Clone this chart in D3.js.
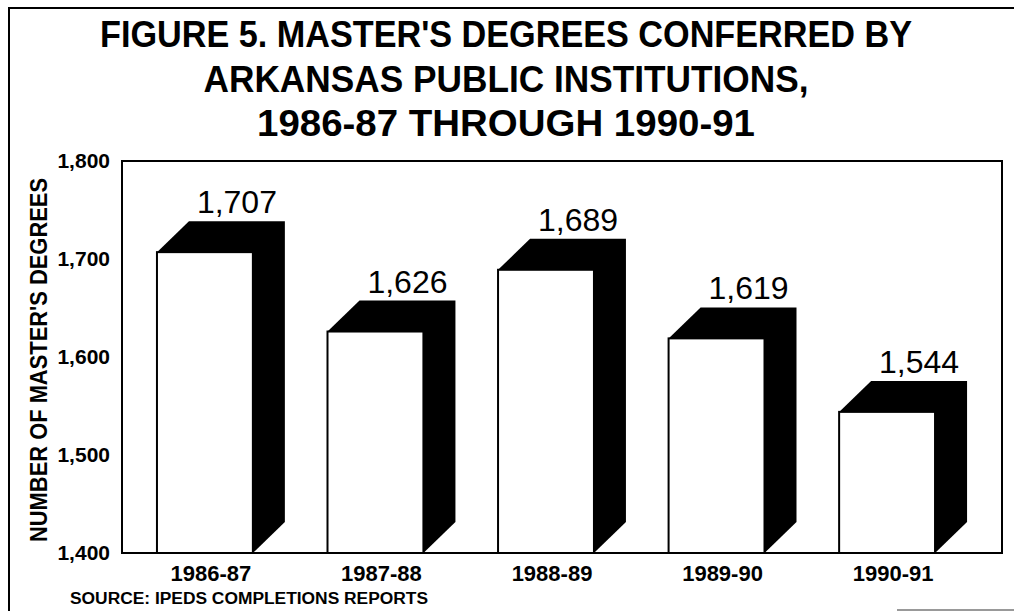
<!DOCTYPE html>
<html>
<script src='https://cdnjs.cloudflare.com/ajax/libs/d3/7.8.5/d3.min.js'></script>
<style>
body {margin: 0; background: white;}
text {font-family: 'Liberation Sans', Arial, sans-serif; fill: black;}
</style>
<body onload='init()'>
<script>
// chart data
var years = ['1986-87', '1987-88', '1988-89', '1989-90', '1990-91'];
var degrees = [1707, 1626, 1689, 1619, 1544];
var yTicks = [1400, 1500, 1600, 1700, 1800];
var titleLines = ["FIGURE 5. MASTER'S DEGREES CONFERRED BY", 'ARKANSAS PUBLIC INSTITUTIONS,', '1986-87 THROUGH 1990-91'];
var yTitle = "NUMBER OF MASTER'S DEGREES";
var source = 'SOURCE: IPEDS COMPLETIONS REPORTS';

function init() {
var left = 122, right = 1002, top = 161, bottom = 553;
var dx = 32, dy = 31;

var svg = d3.select('body')
.append('svg')
.attr('width', 1014)
.attr('height', 611);

// outer page border
svg.append('path')
.attr('d', 'M9,611 L9,8 L1014,8')
.attr('fill', 'none')
.attr('stroke', 'black')
.attr('stroke-width', 2);
svg.append('line')
.attr('x1', 897).attr('x2', 1014).attr('y1', 610).attr('y2', 610)
.attr('stroke', '#777').attr('stroke-width', 1.5);

var x = d3.scaleBand().domain(years).range([left, right]).paddingInner(0.25).paddingOuter(0.205);
var y = d3.scaleLinear().domain([1400, 1800]).range([bottom, top]);

// title
var titleY = [47, 92, 136], titleW = [812, 605, 498];
svg.selectAll('.title')
.data(titleLines)
.enter()
.append('text')
.attr('class', 'title')
.attr('x', 506)
.attr('y', function(d, i){return titleY[i];})
.attr('text-anchor', 'middle')
.attr('textLength', function(d, i){return titleW[i];})
.attr('lengthAdjust', 'spacingAndGlyphs')
.style('font-size', '37px')
.style('font-weight', 'bold')
.text(function(d){return d;});

// plot frame
svg.append('rect')
.attr('x', left).attr('y', top)
.attr('width', right - left).attr('height', bottom - top)
.attr('fill', 'white')
.attr('stroke', 'black')
.attr('stroke-width', 2);

// y axis labels
var yAxis = svg.append('g')
.attr('transform', 'translate(' + left + ',0)')
.call(d3.axisLeft(y).tickValues(yTicks).tickSize(0).tickPadding(12).tickFormat(d3.format(',')));
yAxis.select('.domain').remove();
yAxis.selectAll('text')
.style('font-family', "'Liberation Sans', Arial, sans-serif")
.style('font-size', '21px')
.style('font-weight', 'bold');

// bars
var w = x.bandwidth() - dx;
var bars = svg.selectAll('.bar')
.data(degrees)
.enter()
.append('g')
.attr('class', 'bar');

bars.append('path')
.attr('fill', 'black')
.attr('d', function(d, i){
  var x0 = x(years[i]), x1 = x0 + w, yv = y(d), y0 = y(1400);
  return 'M' + x0 + ',' + yv + 'L' + (x0 + dx) + ',' + (yv - dy) + 'L' + (x1 + dx) + ',' + (yv - dy) +
         'L' + (x1 + dx) + ',' + (y0 - dy) + 'L' + x1 + ',' + y0 + 'Z';
});

bars.append('rect')
.attr('x', function(d, i){return x(years[i]);})
.attr('y', function(d){return y(d);})
.attr('width', w)
.attr('height', function(d){return y(1400) - y(d);})
.attr('fill', 'white')
.attr('stroke', 'black')
.attr('stroke-width', 2);

bars.append('text')
.attr('x', function(d, i){return x(years[i]) + dx + w / 2;})
.attr('y', function(d){return y(d) - dy - 8;})
.attr('text-anchor', 'middle')
.style('font-size', '32px')
.text(function(d){return d3.format(',')(d);});

// x labels
svg.selectAll('.xlab')
.data(years)
.enter()
.append('text')
.attr('class', 'xlab')
.attr('x', function(d){return x(d) + x.bandwidth() / 2 - 10;})
.attr('y', 581)
.attr('text-anchor', 'middle')
.style('font-size', '22px')
.style('font-weight', 'bold')
.text(function(d){return d;});

// y title
svg.append('text')
.attr('transform', 'translate(47,360)rotate(-90)')
.attr('text-anchor', 'middle')
.attr('textLength', 364)
.attr('lengthAdjust', 'spacingAndGlyphs')
.style('font-size', '23px')
.style('font-weight', 'bold')
.text(yTitle);

// source
svg.append('text')
.attr('x', 70)
.attr('y', 604)
.attr('textLength', 358)
.attr('lengthAdjust', 'spacingAndGlyphs')
.style('font-size', '16px')
.style('font-weight', 'bold')
.text(source);
}
</script>
</body>
</html>
